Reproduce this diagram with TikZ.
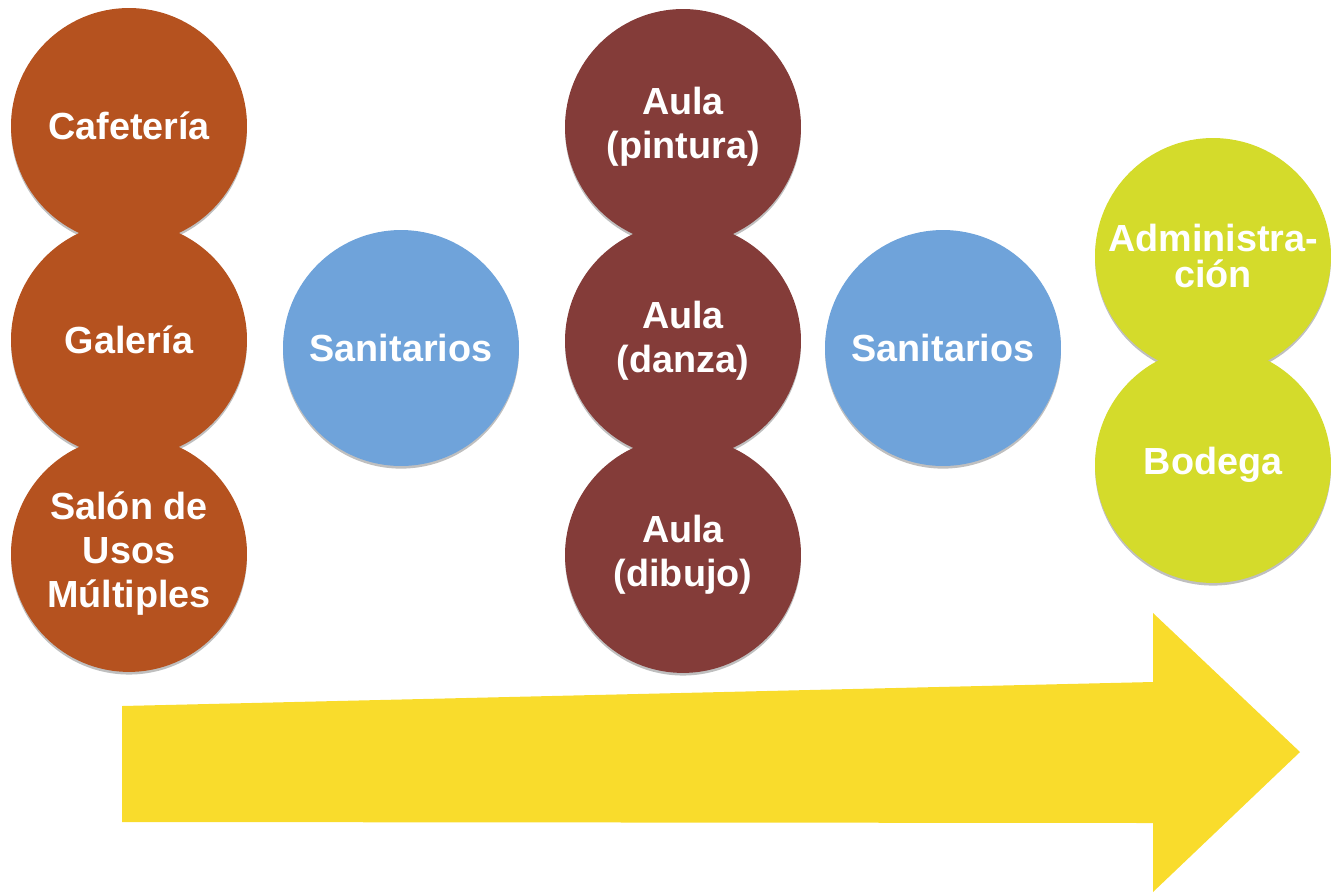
\documentclass[tikz,border=0pt]{standalone}
\usepackage{fontspec}
\setmainfont{Liberation Sans}
\usepackage{tikz}
\usepackage{xcolor}
\usetikzlibrary{positioning,shadows}

\definecolor{cafe}{HTML}{B5521F}
\definecolor{vino}{HTML}{843C39}
\definecolor{azul}{HTML}{6FA3DA}
\definecolor{lima}{HTML}{D4DB2B}
\definecolor{amarillo}{HTML}{F9DC2C}

\tikzset{
  espacio/.style={circle, minimum size=4.72cm, inner sep=0pt, text=white, align=center,
    font=\fontsize{21.5}{25}\selectfont\bfseries,
    drop shadow={shadow xshift=0pt, shadow yshift=-1.5pt, opacity=0.25, fill=black}},
  flecha/.style={fill=amarillo}
}

\begin{document}
\begin{tikzpicture}[x=0.02cm, y=-0.02cm, node distance=4.28cm]
        \useasboundingbox (0,0) rectangle (1343,894);

        % Flecha
        \fill[flecha] (122,706) -- (1153,682) -- (1153,613) -- (1300,752)
                -- (1153,892) -- (1153,823) -- (122,822) -- cycle;

        % Nodes
        \node[espacio, fill=cafe] (cafeteria) at (129,126) {Cafetería};
        \node[espacio, fill=cafe] (galeria) [below of=cafeteria] {Galería};
        \node[espacio, fill=cafe] (salon) [below of=galeria] {Salón de\\Usos\\Múltiples};

        \node[espacio, fill=azul] (sanitarios1) at (401,348) {Sanitarios};

        \node[espacio, fill=vino] (pintura) at (683,127) {Aula\\(pintura)};
        \node[espacio, fill=vino] (danza) [below of=pintura] {Aula\\(danza)};
        \node[espacio, fill=vino] (dibujo) [below of=danza] {Aula\\(dibujo)};

        \node[espacio, fill=azul] (sanitarios2) at (943,348) {Sanitarios};

        \node[espacio, fill=lima, font=\fontsize{21.5}{21}\selectfont\bfseries] (admin) at (1213,256) {Administra-\\ción};
        \node[espacio, fill=lima, node distance=4.18cm] (bodega) [below of=admin] {Bodega};
\end{tikzpicture}
\end{document}
